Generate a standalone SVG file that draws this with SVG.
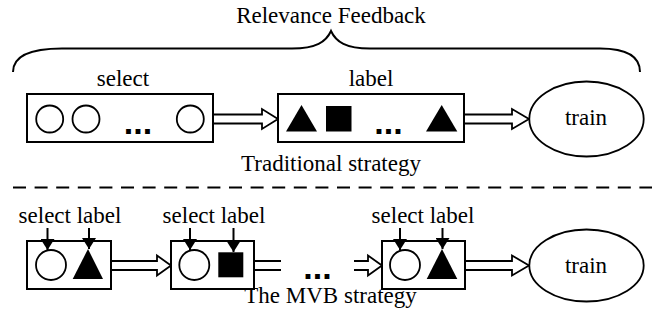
<svg xmlns="http://www.w3.org/2000/svg" width="652" height="326" viewBox="0 0 652 326">
<defs>
<style>
text{font-family:'Liberation Serif','Times New Roman',Times,'DejaVu Serif',serif;font-size:23px;fill:#000;text-anchor:middle}
text.dots{font-family:'Liberation Sans',Arial,sans-serif;font-weight:bold;font-size:34px}
.box{fill:#fff;stroke:#000;stroke-width:2}
.oc{fill:#fff;stroke:#000;stroke-width:1.8}
.fill{fill:#000;stroke:none}
.harrow{fill:#fff;stroke:#000;stroke-width:1.8;stroke-linejoin:miter}
.dline{fill:none;stroke:#000;stroke-width:2}
.down{stroke:#000;stroke-width:2}
</style>
<marker id="ah" viewBox="0 0 11 14" refX="11" refY="7" markerWidth="11" markerHeight="14" markerUnits="userSpaceOnUse" orient="auto">
<path d="M0,0 L11,7 L0,14 z" fill="#000"/>
</marker>
</defs>
<rect width="652" height="326" fill="#fff"/>

<g id="relevance-feedback">
<text x="331" y="23" font-family="Liberation Serif">Relevance Feedback</text>
<path d="M13,72 C13,58 26,48.5 62,48.5 L292,48.5 C316,48.5 326,42 331,31 C336,42 346,48.5 370,48.5 L600,48.5 C630,48.5 640,58 640,72" fill="none" stroke="#000" stroke-width="2"/>
</g>

<g id="connectors">
<path class="harrow" d="M213,114.5 H262 V109 L278,119 L262,129 V123.5 H213"/>
<path class="harrow" d="M464,114.5 H512 V109 L529,119 L512,129 V123.5 H464"/>
<path class="harrow" d="M111,261 H157 V255.5 L171,265.5 L157,275.5 V270 H111"/>
<path class="dline" d="M254,261 H281 M254,270 H281"/>
<path class="harrow" d="M354,261 H368 V255.5 L382,265.5 L368,275.5 V270 H354"/>
<path class="harrow" d="M465,261 H512 V255.5 L529,265.5 L512,275.5 V270 H465"/>
</g>

<g id="select-box">
<text x="123" y="86">select</text>
<rect class="box" x="27" y="94" width="186" height="48"/>
<circle class="oc" cx="49.7" cy="119" r="13.5"/>
<circle class="oc" cx="86" cy="119" r="13.5"/>
<text class="dots" x="138" y="133.5">...</text>
<circle class="oc" cx="190.3" cy="119" r="13.5"/>
</g>

<g id="label-box">
<text x="371" y="86">label</text>
<rect class="box" x="278" y="94" width="186" height="48"/>
<polygon class="fill" points="286,131.5 301.5,105 317,131.5"/>
<rect class="fill" x="326" y="106" width="25.5" height="25.5"/>
<text class="dots" x="388.5" y="133.5">...</text>
<polygon class="fill" points="426,131.5 441.7,105 457.3,131.5"/>
</g>

<g id="train-top">
<ellipse class="oc" cx="586.5" cy="119" rx="57.2" ry="37.5"/>
<text x="586" y="125">train</text>
</g>

<g id="traditional-caption">
<text x="331" y="171">Traditional strategy</text>
</g>

<g id="separator">
<line x1="13" y1="187.5" x2="652" y2="187.5" stroke="#000" stroke-width="2" stroke-dasharray="13,8.6"/>
</g>

<g id="mvb-step-1">
<text x="70" y="222.7">select label</text>
<rect class="box" x="27" y="241" width="84" height="48"/>
<circle class="oc" cx="51" cy="265" r="15"/>
<polygon class="fill" points="72.7,279 88,249 103,279"/>
<line class="down" x1="47.5" y1="228" x2="47.5" y2="250" marker-end="url(#ah)"/>
<line class="down" x1="89" y1="228" x2="89" y2="249" marker-end="url(#ah)"/>
</g>

<g id="mvb-step-2">
<text x="214" y="222.7">select label</text>
<rect class="box" x="171" y="241" width="83" height="48"/>
<circle class="oc" cx="194.3" cy="265" r="15"/>
<rect class="fill" x="218.3" y="252.3" width="25" height="25"/>
<line class="down" x1="190" y1="228" x2="190" y2="250" marker-end="url(#ah)"/>
<line class="down" x1="233.5" y1="228" x2="233.5" y2="252" marker-end="url(#ah)"/>
</g>

<g id="mvb-ellipsis">
<text class="dots" x="317.5" y="279">...</text>
</g>

<g id="mvb-step-n">
<text x="423" y="222.7">select label</text>
<rect class="box" x="382" y="241" width="83" height="48"/>
<circle class="oc" cx="405" cy="265" r="15"/>
<polygon class="fill" points="426.7,279 442,249 457.3,279"/>
<line class="down" x1="400" y1="228" x2="400" y2="250" marker-end="url(#ah)"/>
<line class="down" x1="442.5" y1="228" x2="442.5" y2="249" marker-end="url(#ah)"/>
</g>

<g id="train-bottom">
<ellipse class="oc" cx="586.5" cy="265.5" rx="57.2" ry="36"/>
<text x="586" y="273.3">train</text>
</g>

<g id="mvb-caption">
<text x="330.5" y="303.3">The MVB strategy</text>
</g>
</svg>
